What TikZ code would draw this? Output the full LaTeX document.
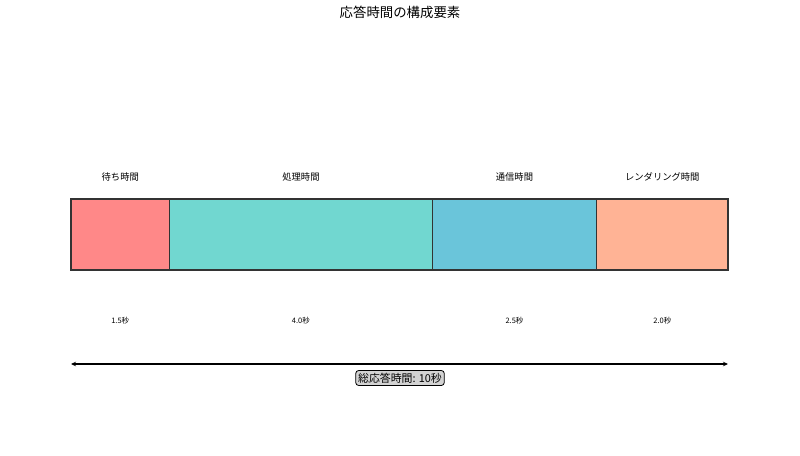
\documentclass[tikz,border=0pt]{standalone}
\usepackage{fontspec}
\setmainfont{Noto Sans CJK JP}
\usetikzlibrary{arrows.meta}
\definecolor{cwait}{HTML}{FF8888}
\definecolor{cproc}{HTML}{71D7D0}
\definecolor{ccomm}{HTML}{6AC5DA}
\definecolor{crend}{HTML}{FFB395}
\definecolor{cedge}{HTML}{333333}
\definecolor{cbox}{HTML}{D3D3D3}
\begin{document}
\begin{tikzpicture}[x=1pt,y=-1pt,
  seg/.style={draw=cedge, line width=1.2pt, inner sep=0pt, outer sep=0pt, minimum height=71pt, anchor=north west},
  lbl/.style={font=\fontsize{9.3pt}{11pt}\selectfont, inner sep=0pt},
  val/.style={font=\fontsize{7.5pt}{9pt}\selectfont, inner sep=0pt},
  ttl/.style={font=\fontsize{13.4pt}{15pt}\selectfont, inner sep=0pt},
  totbox/.style={draw=black, line width=0.8pt, rounded corners=3pt, fill=cbox, inner sep=2.4pt, font=\fontsize{10.9pt}{12pt}\selectfont},
  dim/.style={{Stealth[length=5pt,width=4.5pt]}-{Stealth[length=5pt,width=4.5pt]}, line width=1.3pt, black}
]
\useasboundingbox (0,0) rectangle (800,455);
\fill[white] (0,0) rectangle (800,455);
\node[ttl] (title) at (400,12) {応答時間の構成要素};
\node[seg, fill=cwait, minimum width=98.55pt] (s1) at (71,199) {};
\node[seg, fill=cproc, minimum width=262.8pt] (s2) at (169.55,199) {};
\node[seg, fill=ccomm, minimum width=164.25pt] (s3) at (432.35,199) {};
\node[seg, fill=crend, minimum width=131.4pt] (s4) at (596.6,199) {};
\node[lbl] (l1) at (s1.north |- 0,177) {待ち時間};
\node[lbl] (l2) at (s2.north |- 0,177) {処理時間};
\node[lbl] (l3) at (s3.north |- 0,177) {通信時間};
\node[lbl] (l4) at (s4.north |- 0,177) {レンダリング時間};
\node[val] (v1) at (s1.south |- 0,321) {1.5秒};
\node[val] (v2) at (s2.south |- 0,321) {4.0秒};
\node[val] (v3) at (s3.south |- 0,321) {2.5秒};
\node[val] (v4) at (s4.south |- 0,321) {2.0秒};
\coordinate (aL) at (71,364);
\coordinate (aR) at (728,364);
\draw[dim] (aL) -- (aR);
\node[totbox] (total) at (400,378) {総応答時間: 10秒};
\end{tikzpicture}
\end{document}
